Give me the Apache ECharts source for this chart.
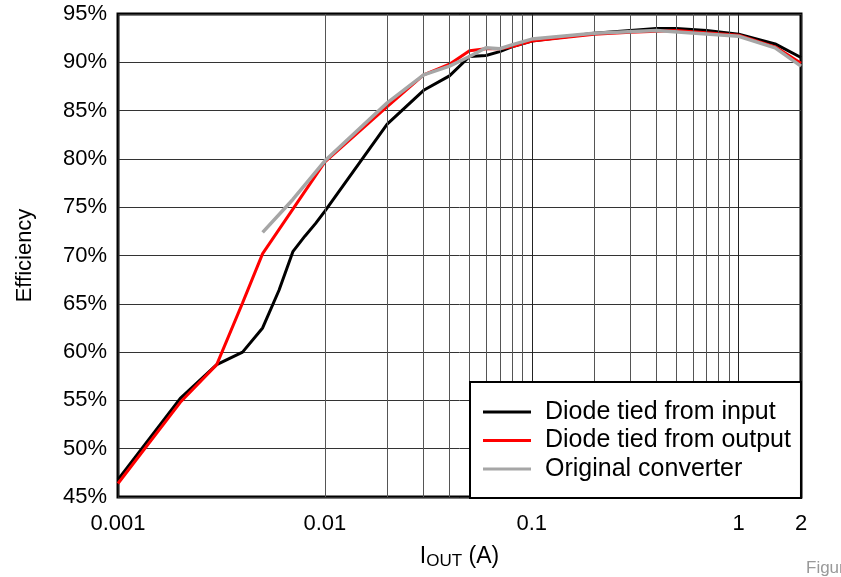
<!DOCTYPE html>
<html>
<head>
<meta charset="utf-8">
<script src="https://cdn.jsdelivr.net/npm/echarts@6/dist/echarts.min.js"></script>
<style>
  html, body { margin: 0; padding: 0; background: #fff; }
  #chart { width: 841px; height: 577px; }
</style>
</head>
<body>
<div id="chart"></div>
<script>
// 数据：输出电流 (A) 与效率 (%)
const inputX = [0.001, 0.002, 0.003, 0.004, 0.005, 0.006, 0.007, 0.008, 0.009, 0.01, 0.02, 0.03, 0.04, 0.05, 0.06, 0.07, 0.08, 0.1, 0.2, 0.3, 0.4, 0.5, 0.7, 1, 1.5, 2];
const inputY = [46.8, 55.2, 58.7, 60.0, 62.5, 66.4, 70.4, 72.0, 73.3, 74.6, 83.6, 87.1, 88.6, 90.6, 90.7, 91.1, 91.6, 92.2, 93.0, 93.3, 93.5, 93.5, 93.3, 92.9, 91.9, 90.5];

const outputX = [0.001, 0.002, 0.003, 0.004, 0.005, 0.007, 0.01, 0.02, 0.03, 0.04, 0.05, 0.06, 0.07, 0.08, 0.1, 0.2, 0.3, 0.5, 1, 1.5, 2];
const outputY = [46.4, 54.8, 58.7, 65.1, 70.2, 74.8, 79.7, 85.4, 88.7, 89.8, 91.2, 91.4, 91.4, 91.6, 92.2, 92.9, 93.1, 93.3, 92.8, 91.6, 89.9];

const originalX = [0.005, 0.007, 0.01, 0.02, 0.03, 0.04, 0.05, 0.06, 0.07, 0.08, 0.1, 0.2, 0.4, 1, 1.5, 2];
const originalY = [72.4, 75.8, 79.8, 85.8, 88.7, 89.6, 90.6, 91.5, 91.4, 91.8, 92.4, 93.0, 93.3, 92.7, 91.5, 89.6];

// 次网格线位置
const minorGrid = [0.002, 0.003, 0.004, 0.005, 0.006, 0.007, 0.008, 0.009,
  0.02, 0.03, 0.04, 0.05, 0.06, 0.07, 0.08, 0.09,
  0.2, 0.3, 0.4, 0.5, 0.6, 0.7, 0.8, 0.9];

const seriesNames = ["Diode tied from input", "Diode tied from output", "Original converter"];

function pairs(xs, ys) {
  return xs.map((x, i) => [x, ys[i]]);
}

const font = "Liberation Sans";

const option = {
  animation: false,
  grid: {
    left: 118,
    right: 40,
    top: 14,
    bottom: 80,
    show: true,
    borderColor: "#000",
    borderWidth: 3,
    backgroundColor: "transparent",
  },
  legend: {
    data: seriesNames,
    orient: "vertical",
    left: 470,
    top: 382,
    z: 20,
    itemWidth: 48,
    itemHeight: 3,
    itemGap: 0.5,
    padding: [16, 10, 15, 13],
    borderColor: "#000",
    borderWidth: 2,
    borderRadius: 0,
    backgroundColor: "#fff",
    icon: "rect",
    textStyle: { fontFamily: font, fontSize: 25, lineHeight: 28, color: "#000", padding: [0, 0, 0, 9] },
  },
  xAxis: {
    type: "log",
    logBase: 10,
    min: 0.001,
    max: 2,
    name: "{a|I}{b|OUT}{a| (A)}",
    nameLocation: "middle",
    nameGap: 46,
    nameTextStyle: {
      rich: {
        a: { fontFamily: font, fontSize: 23, color: "#000" },
        b: { fontFamily: font, fontSize: 17, color: "#000", padding: [10, 0, 0, 0] },
      },
    },
    axisLine: { show: false },
    axisTick: { show: false },
    axisLabel: {
      fontFamily: font,
      fontSize: 22,
      color: "#000",
      margin: 16,
      formatter: (v) => String(Number(v.toPrecision(6))),
    },
    splitLine: { show: true, lineStyle: { color: "#222", width: 1 } },
  },
  yAxis: {
    type: "value",
    min: 45,
    max: 95,
    interval: 5,
    name: "Efficiency",
    nameLocation: "middle",
    nameGap: 82,
    nameTextStyle: { fontFamily: font, fontSize: 22, color: "#000" },
    axisLine: { show: false },
    axisTick: { show: false },
    axisLabel: {
      fontFamily: font,
      fontSize: 22,
      color: "#000",
      margin: 11,
      formatter: "{value}%",
    },
    splitLine: { show: true, lineStyle: { color: "#333", width: 1 } },
  },
  series: [
    {
      // 次网格线
      name: "grid",
      type: "line",
      data: [[0.001, 45]],
      symbol: "none",
      lineStyle: { opacity: 0 },
      silent: true,
      z: 1,
      markLine: {
        silent: true,
        symbol: "none",
        label: { show: false },
        lineStyle: { color: "#555", width: 1, type: "solid" },
        data: minorGrid.map((v) => ({ xAxis: v })),
      },
    },
    {
      name: seriesNames[0],
      type: "line",
      data: pairs(inputX, inputY),
      symbol: "none",
      color: "#000",
      lineStyle: { width: 3, color: "#000" },
      z: 3,
    },
    {
      name: seriesNames[1],
      type: "line",
      data: pairs(outputX, outputY),
      symbol: "none",
      color: "#ff0000",
      lineStyle: { width: 3, color: "#ff0000" },
      z: 4,
    },
    {
      name: seriesNames[2],
      type: "line",
      data: pairs(originalX, originalY),
      symbol: "none",
      color: "#a6a6a6",
      lineStyle: { width: 3.5, color: "#a6a6a6" },
      z: 5,
    },
  ],
  graphic: [
    {
      type: "text",
      left: 806,
      top: 560,
      style: { text: "Figure", fontFamily: font, fontSize: 17, fill: "#999" },
    },
  ],
};

const chartObj = echarts.init(document.getElementById("chart"));
chartObj.setOption(option);
</script>
</body>
</html>
